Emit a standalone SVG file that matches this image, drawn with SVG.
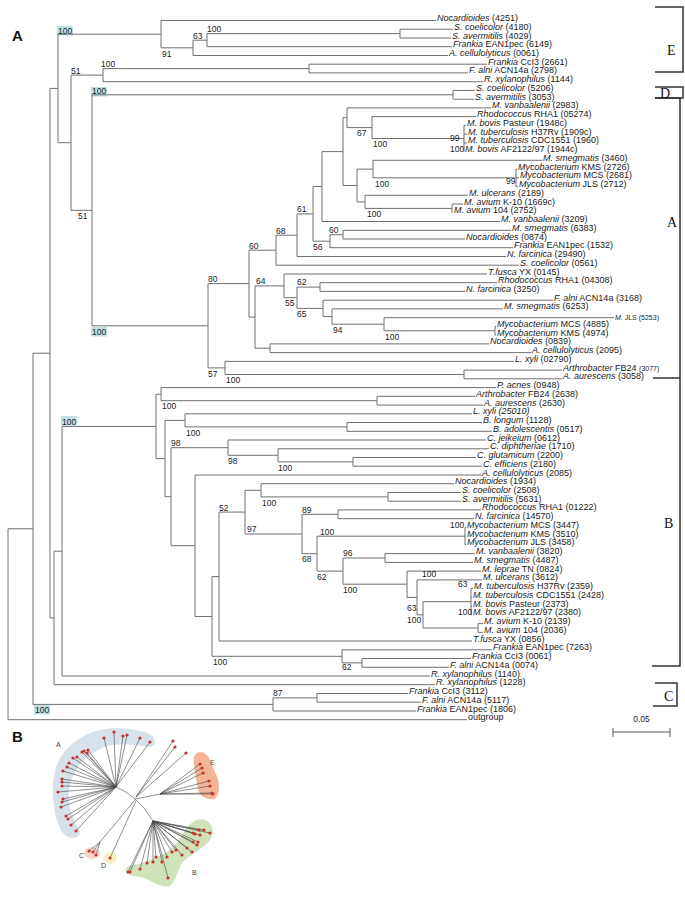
<svg xmlns="http://www.w3.org/2000/svg" width="685" height="901" viewBox="0 0 685 901">
<style>
.e{fill:none;stroke:#707070;stroke-width:1}
.lf{font-family:"Liberation Sans",Arial,sans-serif;font-size:9px;fill:#1a1a1a}
.sm{font-size:7px}
.bs{font-family:"Liberation Sans",Arial,sans-serif;font-size:8.5px;fill:#222}
.i{font-style:italic}
.hl{fill:#bde0e3}
.br{fill:none;stroke:#333;stroke-width:1.5}
.cl{font-family:"Liberation Serif","Times New Roman",serif;font-size:14px;fill:#111}
.pl{font-family:"Liberation Sans",Arial,sans-serif;font-size:15px;font-weight:bold;fill:#111}
.ul{fill:none;stroke:#444;stroke-width:0.6}
.dot{fill:#c8342b}
.bl{font-family:"Liberation Sans",Arial,sans-serif;font-size:7px;fill:#444}
</style>
<rect width="685" height="901" fill="#fff"/>
<text class="pl" x="12" y="41">A</text>
<text class="pl" x="12" y="742">B</text>

<g id="highlights">
<rect class="hl" x="57" y="26" width="16" height="9.5"/>
<rect class="hl" x="91" y="87" width="16" height="9.5"/>
<rect class="hl" x="91" y="327" width="16" height="9.5"/>
<rect class="hl" x="61" y="416" width="16" height="9.5"/>
<rect class="hl" x="34" y="705" width="16" height="9.5"/>
</g>

<g id="connectors">
<path class="e" d="M8 528.8V719.7M33 353.2V704.4M50 88.4V618M54 551.2V684.7M58 34.2V142.7M62 426.4V676M71 75.1V210.3M92 94.8V325.8M103 68.6V81.7M161 20.5V47.8M193 40.2V55.5M207 33.6V46.7M400 29.2V38M309 64.2V72.9M453 90.4V99.2M208 283.6V367.9M225 361.4V374.5M464 370.1V378.8M249 250.2V317.1M276 235.2V265.2M297 213.9V256.5M313 186.5V241.2M322 151.6V221.5M343 117.7V185.5M347 107.9V127.6M372 116.6V138.5M464 125.4V151.6M357 169.1V201.9M373 160.3V177.8M516 169.1V186.6M365 195.3V208.4M452 204V212.8M330 234.7V247.7M343 230.3V239M255 285.9V348.2M284 274V297.7M297 287.1V308.4M320 282.7V291.4M323 300.2V316.6M332 308.9V324.2M384 317.7V330.8M495 326.4V335.1M270 343.9V352.6"/>
<path class="e" d="M156 394.2V458.6M161 387.6V400.7M377 396.3V405.1M165 420.4V496.7M185 413.8V426.9M347 422.5V431.3M171 447.7V545.7M228 440V455.3M278 448.8V461.9M353 457.5V466.2M195 475V616.5M212 576.6V656.3M219 512.1V641M245 490.3V534M261 483.7V496.9M388 492.5V501.2M302 514.3V553.7M338 509.9V518.7M317 536.2V571.1M465 527.4V544.9M343 558V584.2M385 553.6V562.4M407 571.1V597.4M417 579.9V614.8M423 601.7V628M471 588.6V614.8M478 623.6V632.3M342 649.8V662.9M362 658.5V667.3M273 697.9V711M317 693.5V702.2"/>
<path class="e" d="M8 528.8H33M33 353.2H50M33 704.4H273M50 88.4H58M50 618H54M54 551.2H62M62 426.4H156M58 34.2H161M58 142.7H71M161 47.8H193M193 40.2H207M207 33.6H400M71 75.1H103M71 210.3H92M103 68.6H309M92 94.8H453M92 325.8H208M208 283.6H249M208 367.9H225M225 374.5H464M249 250.2H276M249 317.1H255M276 235.2H297M297 213.9H313M313 186.5H322M313 241.2H330M322 151.6H343M343 117.7H347M343 185.5H357M347 127.6H372M372 138.5H464M357 169.1H373M357 201.9H365M373 177.8H516M365 208.4H452M330 234.7H343M255 285.9H284M255 348.2H270M284 297.7H297M297 287.1H320M297 308.4H323M323 316.6H332M332 324.2H384M384 330.8H495"/>
<path class="e" d="M156 394.2H161M156 458.6H165M161 400.7H377M165 420.4H185M165 496.7H171M185 426.9H347M171 447.7H228M171 545.7H195M228 455.3H278M278 461.9H353M195 616.5H212M212 576.6H219M212 656.3H342M219 512.1H245M245 490.3H261M245 534H302M261 496.9H388M302 514.3H338M302 553.7H317M317 536.2H465M317 571.1H343M343 558H385M343 584.2H407M407 597.4H417M417 614.8H423M423 601.7H471M423 628H478M342 662.9H362M273 697.9H317"/>
<path class="e" d="M161 20.5H436M400 29.2H453M400 38H451M207 46.7H452M193 55.5H448M309 64.2H487M309 72.9H468M103 81.7H483M453 90.4H475M453 99.2H474M347 107.9H491M372 116.6H476M464 125.4H466M464 134.1H467M464 142.9H467M373 160.3H542M516 169.1H517M516 177.8H519M516 186.6H518M365 195.3H468M452 204H463M322 221.5H500M343 230.3H511M343 239H465M330 247.7H513M297 256.5H506M276 265.2H519M284 274H487M320 282.7H497M320 291.4H465M323 300.2H553M332 308.9H503M384 317.7H614M495 326.4H496M495 335.1H496M270 343.9H489M270 352.6H531M225 361.4H514M464 370.1H562M464 378.8H562"/>
<path class="e" d="M161 387.6H496M377 396.3H475M377 405.1H483M185 413.8H472M347 422.5H482M347 431.3H492M228 440H486M278 448.8H489M353 457.5H476M353 466.2H482M195 475H481M261 483.7H454M388 492.5H461M388 501.2H461M338 509.9H481M338 518.7H474M465 527.4H466M465 536.2H466M465 544.9H466M385 553.6H475M385 562.4H473M407 571.1H481M417 579.9H482M471 588.6H473M471 597.3H472M471 606.1H472M471 614.8H472M478 623.6H483M478 632.3H483M219 641H472M342 649.8H492M362 658.5H471M362 667.3H449M62 676H430M54 684.7H435M317 693.5H408M317 702.2H421M273 711H416M8 719.7H467"/>
</g>

<g id="support">
<text class="bs" x="58" y="33.5">100</text>
<text class="bs" x="92" y="94">100</text>
<text class="bs" x="92" y="335">100</text>
<text class="bs" x="62" y="424.5">100</text>
<text class="bs" x="35" y="713">100</text>
<text class="bs" x="162" y="56.5">91</text>
<text class="bs" x="193" y="38.7">63</text>
<text class="bs" x="207" y="32">100</text>
<text class="bs" x="71" y="73.5">51</text>
<text class="bs" x="101" y="67">100</text>
<text class="bs" x="78" y="219">51</text>
<text class="bs" x="208" y="282">80</text>
<text class="bs" x="208" y="376.5">57</text>
<text class="bs" x="226" y="383">100</text>
<text class="bs" x="249" y="248.5">60</text>
<text class="bs" x="256" y="284.2">64</text>
<text class="bs" x="276" y="233.7">68</text>
<text class="bs" x="297" y="212.2">61</text>
<text class="bs" x="313" y="250">56</text>
<text class="bs" x="329" y="233">60</text>
<text class="bs" x="297" y="285.4">62</text>
<text class="bs" x="285" y="306.3">55</text>
<text class="bs" x="297" y="317">65</text>
<text class="bs" x="333" y="333">94</text>
<text class="bs" x="385" y="339.5">100</text>
<text class="bs" x="357" y="136.3">67</text>
<text class="bs" x="373" y="147">100</text>
<text class="bs" x="450" y="141">99</text>
<text class="bs" x="450" y="152.1">100</text>
<text class="bs" x="375" y="186.5">100</text>
<text class="bs" x="506" y="184">99</text>
<text class="bs" x="367" y="217">100</text>
<text class="bs" x="162" y="409.3">100</text>
<text class="bs" x="186" y="435.5">100</text>
<text class="bs" x="171" y="446">98</text>
<text class="bs" x="228" y="464">98</text>
<text class="bs" x="278" y="470.5">100</text>
<text class="bs" x="262" y="505.5">100</text>
<text class="bs" x="219" y="510.5">52</text>
<text class="bs" x="302" y="512.6">89</text>
<text class="bs" x="247" y="532.3">97</text>
<text class="bs" x="320" y="534.5">100</text>
<text class="bs" x="302" y="562.3">68</text>
<text class="bs" x="317" y="579.8">62</text>
<text class="bs" x="343" y="556.3">96</text>
<text class="bs" x="343" y="592.8">100</text>
<text class="bs" x="422" y="577">100</text>
<text class="bs" x="407" y="611">63</text>
<text class="bs" x="407" y="622.5">100</text>
<text class="bs" x="458" y="586.5">63</text>
<text class="bs" x="458" y="615.3">100</text>
<text class="bs" x="450" y="528">100</text>
<text class="bs" x="213" y="665">100</text>
<text class="bs" x="342" y="670">62</text>
<text class="bs" x="273" y="696.2">87</text>
</g>

<g id="leaf-01"><text class="lf" x="437" y="21"><tspan class="i">Nocardioides</tspan> (4251)</text></g>
<g id="leaf-02"><text class="lf" x="454" y="29.7"><tspan class="i">S. coelicolor</tspan> (4180)</text></g>
<g id="leaf-03"><text class="lf" x="452" y="38.5"><tspan class="i">S. avermitilis</tspan> (4029)</text></g>
<g id="leaf-04"><text class="lf" x="453" y="47.2"><tspan class="i">Frankia</tspan> EAN1pec (6149)</text></g>
<g id="leaf-05"><text class="lf" x="449" y="56"><tspan class="i">A. cellulolyticus</tspan> (0061)</text></g>
<g id="leaf-06"><text class="lf" x="488" y="64.7"><tspan class="i">Frankia</tspan> CcI3 (2661)</text></g>
<g id="leaf-07"><text class="lf" x="469" y="73.4"><tspan class="i">F. alni</tspan> ACN14a (2798)</text></g>
<g id="leaf-08"><text class="lf" x="484" y="82.2"><tspan class="i">R. xylanophilus</tspan> (1144)</text></g>
<g id="leaf-09"><text class="lf" x="476" y="90.9"><tspan class="i">S. coelicolor</tspan> (5206)</text></g>
<g id="leaf-10"><text class="lf" x="475" y="99.7"><tspan class="i">S. avermitilis</tspan> (3053)</text></g>
<g id="leaf-11"><text class="lf" x="492" y="108.4"><tspan class="i">M. vanbaalenii</tspan> (2983)</text></g>
<g id="leaf-12"><text class="lf" x="477" y="117.1"><tspan class="i">Rhodococcus</tspan> RHA1 (05274)</text></g>
<g id="leaf-13"><text class="lf" x="467" y="125.9"><tspan class="i">M. bovis</tspan> Pasteur (1948c)</text></g>
<g id="leaf-14"><text class="lf" x="468" y="134.6"><tspan class="i">M. tuberculosis</tspan> H37Rv (1909c)</text></g>
<g id="leaf-15"><text class="lf" x="468" y="143.4"><tspan class="i">M. tuberculosis</tspan> CDC1551 (1960)</text></g>
<g id="leaf-16"><text class="lf" x="465" y="152.1"><tspan class="i">M. bovis</tspan> AF2122/97 (1944c)</text></g>
<g id="leaf-17"><text class="lf" x="543" y="160.8"><tspan class="i">M. smegmatis</tspan> (3460)</text></g>
<g id="leaf-18"><text class="lf" x="518" y="169.6"><tspan class="i">Mycobacterium</tspan> KMS (2726)</text></g>
<g id="leaf-19"><text class="lf" x="520" y="178.3"><tspan class="i">Mycobacterium</tspan> MCS (2681)</text></g>
<g id="leaf-20"><text class="lf" x="519" y="187.1"><tspan class="i">Mycobacterium</tspan> JLS (2712)</text></g>
<g id="leaf-21"><text class="lf" x="469" y="195.8"><tspan class="i">M. ulcerans</tspan> (2189)</text></g>
<g id="leaf-22"><text class="lf" x="464" y="204.5"><tspan class="i">M. avium</tspan> K-10 (1669c)</text></g>
<g id="leaf-23"><text class="lf" x="454" y="213.3"><tspan class="i">M. avium</tspan> 104 (2752)</text></g>
<g id="leaf-24"><text class="lf" x="501" y="222"><tspan class="i">M. vanbaalenii</tspan> (3209)</text></g>
<g id="leaf-25"><text class="lf" x="512" y="230.8"><tspan class="i">M. smegmatis</tspan> (6383)</text></g>
<g id="leaf-26"><text class="lf" x="466" y="239.5"><tspan class="i">Nocardioides</tspan> (0874)</text></g>
<g id="leaf-27"><text class="lf" x="514" y="248.2"><tspan class="i">Frankia</tspan> EAN1pec (1532)</text></g>
<g id="leaf-28"><text class="lf" x="507" y="257"><tspan class="i">N. farcinica</tspan> (29490)</text></g>
<g id="leaf-29"><text class="lf" x="520" y="265.7"><tspan class="i">S. coelicolor</tspan> (0561)</text></g>
<g id="leaf-30"><text class="lf" x="488" y="274.5"><tspan class="i">T.fusca</tspan> YX (0145)</text></g>
<g id="leaf-31"><text class="lf" x="498" y="283.2"><tspan class="i">Rhodococcus</tspan> RHA1 (04308)</text></g>
<g id="leaf-32"><text class="lf" x="466" y="291.9"><tspan class="i">N. farcinica</tspan> (3250)</text></g>
<g id="leaf-33"><text class="lf" x="554" y="300.7"><tspan class="i">F. alni</tspan> ACN14a (3168)</text></g>
<g id="leaf-34"><text class="lf" x="504" y="309.4"><tspan class="i">M. smegmatis</tspan> (6253)</text></g>
<g id="leaf-35"><text class="lf sm" x="615" y="320"><tspan class="i">M.</tspan> JLS (5253)</text></g>
<g id="leaf-36"><text class="lf" x="497" y="326.9"><tspan class="i">Mycobacterium</tspan> MCS (4885)</text></g>
<g id="leaf-37"><text class="lf" x="497" y="335.6"><tspan class="i">Mycobacterium</tspan> KMS (4974)</text></g>
<g id="leaf-38"><text class="lf" x="490" y="344.4"><tspan class="i">Nocardioides</tspan> (0839)</text></g>
<g id="leaf-39"><text class="lf" x="532" y="353.1"><tspan class="i">A. cellulolyticus</tspan> (2095)</text></g>
<g id="leaf-40"><text class="lf" x="515" y="361.9"><tspan class="i">L. xyli</tspan> (02790)</text></g>
<g id="leaf-41"><text class="lf" x="563" y="370.6"><tspan class="i">Arthrobacter</tspan> FB24 <tspan class="sm">(3077)</tspan></text></g>
<g id="leaf-42"><text class="lf" x="563" y="379.3"><tspan class="i">A. aurescens</tspan> (3058)</text></g>
<g id="leaf-43"><text class="lf" x="497" y="388.1"><tspan class="i">P. acnes</tspan> (0948)</text></g>
<g id="leaf-44"><text class="lf" x="476" y="396.8"><tspan class="i">Arthrobacter</tspan> FB24 (2638)</text></g>
<g id="leaf-45"><text class="lf" x="484" y="405.6"><tspan class="i">A. aurescens</tspan> (2630)</text></g>
<g id="leaf-46"><text class="lf i" x="473" y="414.3">L. xyli (25010)</text></g>
<g id="leaf-47"><text class="lf" x="483" y="423"><tspan class="i">B. longum</tspan> (1128)</text></g>
<g id="leaf-48"><text class="lf" x="493" y="431.8"><tspan class="i">B. adolescentis</tspan> (0517)</text></g>
<g id="leaf-49"><text class="lf" x="487" y="440.5"><tspan class="i">C. jeikeium</tspan> (0612)</text></g>
<g id="leaf-50"><text class="lf" x="490" y="449.3"><tspan class="i">C. diphtheriae</tspan> (1710)</text></g>
<g id="leaf-51"><text class="lf" x="477" y="458"><tspan class="i">C. glutamicum</tspan> (2200)</text></g>
<g id="leaf-52"><text class="lf" x="483" y="466.7"><tspan class="i">C. efficiens</tspan> (2180)</text></g>
<g id="leaf-53"><text class="lf" x="482" y="475.5"><tspan class="i">A. cellulolyticus</tspan> (2085)</text></g>
<g id="leaf-54"><text class="lf" x="455" y="484.2"><tspan class="i">Nocardioides</tspan> (1934)</text></g>
<g id="leaf-55"><text class="lf" x="462" y="493"><tspan class="i">S. coelicolor</tspan> (2508)</text></g>
<g id="leaf-56"><text class="lf" x="462" y="501.7"><tspan class="i">S. avermitilis</tspan> (5631)</text></g>
<g id="leaf-57"><text class="lf" x="482" y="510.4"><tspan class="i">Rhodococcus</tspan> RHA1 (01222)</text></g>
<g id="leaf-58"><text class="lf" x="475" y="519.2"><tspan class="i">N. farcinica</tspan> (14570)</text></g>
<g id="leaf-59"><text class="lf" x="467" y="527.9"><tspan class="i">Mycobacterium</tspan> MCS (3447)</text></g>
<g id="leaf-60"><text class="lf" x="467" y="536.7"><tspan class="i">Mycobacterium</tspan> KMS (3510)</text></g>
<g id="leaf-61"><text class="lf" x="467" y="545.4"><tspan class="i">Mycobacterium</tspan> JLS (3458)</text></g>
<g id="leaf-62"><text class="lf" x="476" y="554.1"><tspan class="i">M. vanbaalenii</tspan> (3820)</text></g>
<g id="leaf-63"><text class="lf" x="474" y="562.9"><tspan class="i">M. smegmatis</tspan> (4487)</text></g>
<g id="leaf-64"><text class="lf" x="482" y="571.6"><tspan class="i">M. leprae</tspan> TN (0824)</text></g>
<g id="leaf-65"><text class="lf" x="483" y="580.4"><tspan class="i">M. ulcerans</tspan> (3612)</text></g>
<g id="leaf-66"><text class="lf" x="474" y="589.1"><tspan class="i">M. tuberculosis</tspan> H37Rv (2359)</text></g>
<g id="leaf-67"><text class="lf" x="473" y="597.8"><tspan class="i">M. tuberculosis</tspan> CDC1551 (2428)</text></g>
<g id="leaf-68"><text class="lf" x="473" y="606.6"><tspan class="i">M. bovis</tspan> Pasteur (2373)</text></g>
<g id="leaf-69"><text class="lf" x="473" y="615.3"><tspan class="i">M. bovis</tspan> AF2122/97 (2380)</text></g>
<g id="leaf-70"><text class="lf" x="484" y="624.1"><tspan class="i">M. avium</tspan> K-10 (2139)</text></g>
<g id="leaf-71"><text class="lf" x="484" y="632.8"><tspan class="i">M. avium</tspan> 104 (2036)</text></g>
<g id="leaf-72"><text class="lf" x="473" y="641.5"><tspan class="i">T.fusca</tspan> YX (0856)</text></g>
<g id="leaf-73"><text class="lf" x="493" y="650.3"><tspan class="i">Frankia</tspan> EAN1pec (7263)</text></g>
<g id="leaf-74"><text class="lf" x="472" y="659"><tspan class="i">Frankia</tspan> CcI3 (0061)</text></g>
<g id="leaf-75"><text class="lf" x="450" y="667.8"><tspan class="i">F. alni</tspan> ACN14a (0074)</text></g>
<g id="leaf-76"><text class="lf" x="431" y="676.5"><tspan class="i">R. xylanophilus</tspan> (1140)</text></g>
<g id="leaf-77"><text class="lf" x="436" y="685.2"><tspan class="i">R. xylanophilus</tspan> (1228)</text></g>
<g id="leaf-78"><text class="lf" x="409" y="694"><tspan class="i">Frankia</tspan> CcI3 (3112)</text></g>
<g id="leaf-79"><text class="lf" x="422" y="702.7"><tspan class="i">F. alni</tspan> ACN14a (5117)</text></g>
<g id="leaf-80"><text class="lf" x="417" y="711.5"><tspan class="i">Frankia</tspan> EAN1pec (1806)</text></g>
<g id="leaf-81"><text class="lf" x="468" y="720.2">outgroup</text></g>

<g id="clade-brackets">
<path class="br" d="M655 7H683V72H655"/>
<path class="br" d="M655 87H683V98H655"/>
<path class="br" d="M655 98H680V378H653"/>
<path class="br" d="M680 378V666H652"/>
<path class="br" d="M655 683H677V706H653"/>
<text class="cl" x="667" y="55">E</text>
<text class="cl" x="660" y="98">D</text>
<text class="cl" x="667" y="227">A</text>
<text class="cl" x="664" y="528">B</text>
<text class="cl" x="664" y="701">C</text>
</g>

<g id="scale-bar">
<path fill="none" stroke="#555" stroke-width="1" d="M613 732H670M613 728V737M670 728V737"/>
<text class="bs" x="641.5" y="722" text-anchor="middle">0.05</text>
</g>

<g id="panel-b">
<path fill="#d6e1ea" d="M100 730 C112 727 135 728 150 734 C157 738 156 746 150 747 C140 746 125 743 112 745 C100 747 88 755 80 764 C71 776 67 790 69 804 C71 815 77 826 80 832 C80 838 72 840 65 835 C57 828 54 812 53 795 C52 777 56 761 66 750 C75 740 87 733 100 730 Z"/>
<path fill="#f4b596" d="M197 753 C201 750 207 754 209 758 C212 765 215 772 218 779 C220 787 219 796 214 799 C208 800 201 797 199 792 C197 784 195 775 194 765 C193 759 194 755 197 753 Z"/>
<path fill="#cfe2b8" d="M193 822 C199 818 207 819 211 825 C215 832 212 840 204 846 C197 852 189 856 183 862 C178 868 177 878 171 885 C165 889 156 884 147 879 C139 876 130 877 126 872 C124 867 130 865 138 864 C148 861 158 857 167 852 C175 846 181 838 185 831 C188 826 190 824 193 822 Z"/>
<ellipse fill="#f6d3cc" cx="92" cy="853" rx="8" ry="6"/>
<ellipse fill="#fbeec0" cx="110" cy="858" rx="7" ry="6"/>
<path class="ul" d="M116 787L126 792L135 799L144 808L153 821M135 799L160 794M135 800L100 842M136 801L110 858M136 797L173 741M136 797L175 747M136 797L186 753"/>
<path class="ul" d="M116 787L104 738M116 787L114 732M116 787L123 736M116 787L127 735M116 787L140 738M116 787L150 742M116 787L82 752M116 787L84 751M116 787L88 750M116 787L87 753M116 787L77 757M116 787L73 758M116 787L69 763M116 787L67 767M116 787L63 771M116 787L62 779M116 787L62 782M116 787L62 786M116 787L58 792M116 787L63 799M116 787L62 802M116 787L61 807M116 787L66 816M116 787L68 819M116 787L71 825M116 787L76 831"/>
<path class="ul" d="M160 794L200 764M160 794L202 768M160 794L203 773M160 794L209 781M160 794L210 786M160 794L212 793M160 794L213 794M100 842L89 851M100 842L93 852M100 842L96 855"/>
<path class="ul" d="M153 821L128 872M153 821L130 872M153 821L140 869M153 821L147 863M153 821L153 862M153 821L156 857M153 821L162 862M153 821L167 857M153 821L172 852M153 821L176 850M153 821L182 855M153 821L187 848M153 821L192 852M153 821L193 842M153 821L198 842M153 821L197 845M153 821L193 833M153 821L195 834M153 821L199 830M153 821L200 835M153 821L204 830M153 821L210 833M153 821L168 878"/>
<g class="dot">
<circle cx="104" cy="738" r="1.6"/><circle cx="114" cy="732" r="1.6"/><circle cx="123" cy="736" r="1.6"/><circle cx="127" cy="735" r="1.6"/><circle cx="140" cy="738" r="1.6"/><circle cx="150" cy="742" r="1.6"/><circle cx="82" cy="752" r="1.6"/><circle cx="84" cy="751" r="1.6"/><circle cx="88" cy="750" r="1.6"/><circle cx="87" cy="753" r="1.6"/><circle cx="77" cy="757" r="1.6"/><circle cx="73" cy="758" r="1.6"/><circle cx="69" cy="763" r="1.6"/><circle cx="67" cy="767" r="1.6"/><circle cx="63" cy="771" r="1.6"/><circle cx="62" cy="779" r="1.6"/><circle cx="62" cy="782" r="1.6"/><circle cx="62" cy="786" r="1.6"/><circle cx="58" cy="792" r="1.6"/><circle cx="63" cy="799" r="1.6"/><circle cx="62" cy="802" r="1.6"/><circle cx="61" cy="807" r="1.6"/><circle cx="66" cy="816" r="1.6"/><circle cx="68" cy="819" r="1.6"/><circle cx="71" cy="825" r="1.6"/><circle cx="76" cy="831" r="1.6"/>
<circle cx="173" cy="741" r="1.6"/><circle cx="175" cy="747" r="1.6"/><circle cx="186" cy="753" r="1.6"/>
<circle cx="200" cy="764" r="1.6"/><circle cx="202" cy="768" r="1.6"/><circle cx="203" cy="773" r="1.6"/><circle cx="209" cy="781" r="1.6"/><circle cx="210" cy="786" r="1.6"/><circle cx="212" cy="793" r="1.6"/><circle cx="213" cy="794" r="1.6"/>
<circle cx="89" cy="851" r="1.6"/><circle cx="93" cy="852" r="1.6"/><circle cx="96" cy="855" r="1.6"/><circle cx="110" cy="858" r="1.6"/>
<circle cx="128" cy="872" r="1.6"/><circle cx="130" cy="872" r="1.6"/><circle cx="140" cy="869" r="1.6"/><circle cx="147" cy="863" r="1.6"/><circle cx="153" cy="862" r="1.6"/><circle cx="156" cy="857" r="1.6"/><circle cx="162" cy="862" r="1.6"/><circle cx="167" cy="857" r="1.6"/><circle cx="172" cy="852" r="1.6"/><circle cx="176" cy="850" r="1.6"/><circle cx="182" cy="855" r="1.6"/><circle cx="187" cy="848" r="1.6"/><circle cx="192" cy="852" r="1.6"/><circle cx="193" cy="842" r="1.6"/><circle cx="198" cy="842" r="1.6"/><circle cx="197" cy="845" r="1.6"/><circle cx="193" cy="833" r="1.6"/><circle cx="195" cy="834" r="1.6"/><circle cx="199" cy="830" r="1.6"/><circle cx="200" cy="835" r="1.6"/><circle cx="204" cy="830" r="1.6"/><circle cx="210" cy="833" r="1.6"/><circle cx="168" cy="878" r="1.6"/>
</g>
<text class="bl" x="56" y="747">A</text>
<text class="bl" x="210" y="765">E</text>
<text class="bl" x="79" y="858">C</text>
<text class="bl" x="101" y="868">D</text>
<text class="bl" x="192" y="875">B</text>
</g>
</svg>
